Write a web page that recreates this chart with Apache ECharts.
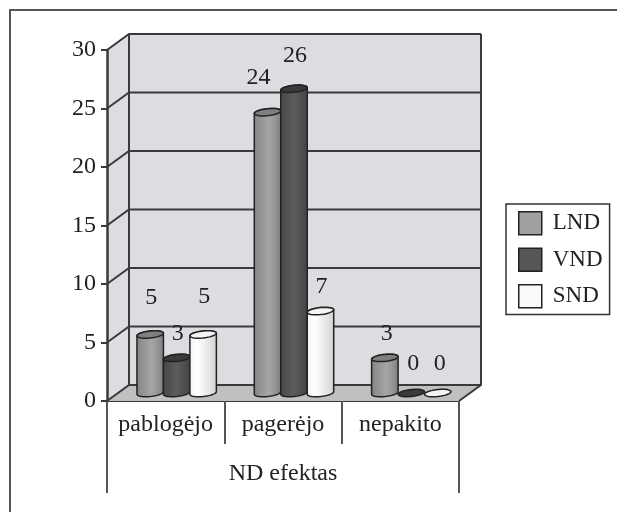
<!DOCTYPE html>
<html>
<head>
<meta charset="utf-8">
<style>html,body{margin:0;padding:0;background:#fff}#main{width:617px;height:512px}</style>
<script src="https://cdn.jsdelivr.net/npm/echarts@6/dist/echarts.min.js"></script>
</head>
<body>
<div id="main"></div>
<script>
var categories = ['pablogėjo', 'pagerėjo', 'nepakito'];
var groupTitle = ['ND efektas'];
var lnd = [5, 24, 3];
var vnd = [3, 26, 0];
var snd = [5, 7, 0];
var yTicks = [0, 5, 10, 15, 20, 25, 30];

// how far each value label sits above its bar, and sideways, as in the original
var labelLift = {
    LND: [37, 34, 24],
    VND: [24, 33, 29],
    SND: [38, 24, 29]
};
var labelShift = {
    LND: [0, -10, 1],
    VND: [0, 0, 1],
    SND: [0, 0, 1]
};

var FONT = '"Liberation Serif", "Times New Roman", serif';
var INK = '#3a3a3a';
var depthX = 22, depthY = -16;

var chart = echarts.init(document.getElementById('main'));

//椭圆的采样点
function arc (cx, cy, a, b, from, to) {
    var pts = [];
    for (var i = 0; i <= 24; i++) {
        var t = from + (to - from) * i / 24;
        pts.push([cx + a * Math.cos(t), cy + b * Math.sin(t) - 0.1 * a * Math.cos(t)]);
    }
    return pts;
}

//墙面和底面
function renderWalls (params, api) {
    var x0 = params.coordSys.x;
    var x1 = x0 + params.coordSys.width;
    var yBase = api.coord([0, 0])[1];
    var yTop = api.coord([0, yTicks[yTicks.length - 1]])[1];
    var line = { stroke: INK, lineWidth: 2, fill: null };
    var kids = [
        { type: 'polygon', shape: { points: [[x0, yBase], [x0 + depthX, yBase + depthY], [x0 + depthX, yTop + depthY], [x0, yTop]] }, style: { fill: '#dcdde0' } },
        { type: 'polygon', shape: { points: [[x0 + depthX, yBase + depthY], [x1 + depthX, yBase + depthY], [x1 + depthX, yTop + depthY], [x0 + depthX, yTop + depthY]] }, style: { fill: '#dcdde0' } },
        { type: 'polygon', shape: { points: [[x0, yBase], [x1, yBase], [x1 + depthX, yBase + depthY], [x0 + depthX, yBase + depthY]] }, style: { fill: '#bfc0c2' } }
    ];
    yTicks.forEach(function (v) {
        var y = api.coord([0, v])[1];
        kids.push({ type: 'polyline', shape: { points: [[x0, y], [x0 + depthX, y + depthY], [x1 + depthX, y + depthY]] }, style: line });
    });
    kids.push({ type: 'polyline', shape: { points: [[x0 + depthX, yTop + depthY], [x0 + depthX, yBase + depthY]] }, style: line });
    kids.push({ type: 'polyline', shape: { points: [[x1 + depthX, yTop + depthY], [x1 + depthX, yBase + depthY], [x1, yBase]] }, style: line });
    return { type: 'group', children: kids };
}

//圆柱
function cylinder (name, slot, stops, topColor) {
    return function (params, api) {
        var cat = api.value(0);
        var val = api.value(1);
        var band = api.size([1, 0])[0];
        var w = band * 0.2256;
        var a = w / 2;
        var b = 3.5;
        var base = api.coord([cat, 0]);
        var top = api.coord([cat, val]);
        var cx = base[0] + depthX / 2 + slot * w;
        var yb = base[1] + depthY / 2;
        var yt = top[1] + depthY / 2;
        var kids = [];
        if (val > 0) {
            var body = arc(cx, yt, a, b, Math.PI, 2 * Math.PI).concat(arc(cx, yb, a, b, 0, Math.PI));
            kids.push({
                type: 'polygon',
                shape: { points: body },
                style: {
                    fill: { type: 'linear', x: 0, y: 0, x2: 1, y2: 0, colorStops: stops },
                    stroke: '#222',
                    lineWidth: 1.5
                }
            });
        }
        kids.push({
            type: 'polygon',
            shape: { points: arc(cx, yt, a, b, 0, 2 * Math.PI) },
            style: { fill: topColor, stroke: '#222', lineWidth: 1.5 }
        });
        kids.push({
            type: 'text',
            style: {
                text: String(val),
                x: cx + 1 + labelShift[name][cat],
                y: yt - labelLift[name][cat],
                align: 'center',
                verticalAlign: 'middle',
                fill: '#222',
                font: '24px ' + FONT
            }
        });
        return { type: 'group', children: kids };
    };
}

function makeBars (name, values, slot, color, stops, topColor) {
    return {
        name: name,
        type: 'custom',
        coordinateSystem: 'cartesian2d',
        xAxisIndex: 0,
        yAxisIndex: 0,
        z: 3,
        silent: true,
        clip: false,
        itemStyle: { color: color },
        encode: { x: 0, y: 1 },
        data: values.map(function (v, i) { return [i, v]; }),
        renderItem: cylinder(name, slot, stops, topColor)
    };
}

var option = {
    animation: false,
    backgroundColor: '#fff',
    graphic: [{
        type: 'polyline',
        shape: { points: [[10, 512], [10, 10], [617, 10]] },
        style: { fill: null, stroke: '#555', lineWidth: 2 },
        silent: true,
        z: 0
    }],
    grid: { left: 107, top: 50, width: 352, height: 351 },
    legend: {
        orient: 'vertical',
        left: 506,
        top: 204,
        padding: [7, 7, 6, 12],
        itemWidth: 23,
        itemHeight: 23,
        itemGap: 12,
        borderColor: '#333',
        borderWidth: 1.5,
        icon: 'rect',
        itemStyle: { borderColor: '#222', borderWidth: 1.5 },
        textStyle: { fontFamily: FONT, fontSize: 23, color: '#222', padding: [0, 0, 0, 6] },
        data: ['LND', 'VND', 'SND']
    },
    xAxis: [{
        type: 'category',
        data: categories,
        position: 'bottom',
        axisLine: { show: true, lineStyle: { color: INK, width: 2 } },
        axisTick: { show: true, interval: 0, length: 43, lineStyle: { color: '#555', width: 2 } },
        axisLabel: { interval: 0, fontFamily: FONT, fontSize: 24, color: '#222', margin: 12 }
    }, {
        type: 'category',
        data: groupTitle,
        position: 'bottom',
        axisLine: { show: false },
        axisTick: { show: true, length: 92, lineStyle: { color: '#555', width: 2 } },
        axisLabel: { fontFamily: FONT, fontSize: 24, color: '#222', margin: 61 }
    }],
    yAxis: {
        type: 'value',
        min: 0,
        max: 30,
        interval: 5,
        z: 5,
        axisLine: { show: true, lineStyle: { color: INK, width: 2.5 } },
        axisTick: { show: true, length: 6, lineStyle: { color: INK, width: 2 } },
        axisLabel: { fontFamily: FONT, fontSize: 24, color: '#222', margin: 11, padding: [0, 0, 5, 0] },
        splitLine: { show: false }
    },
    series: [
        {
            name: 'walls',
            type: 'custom',
            coordinateSystem: 'cartesian2d',
            z: 1,
            silent: true,
            clip: false,
            data: [[0, 0]],
            renderItem: renderWalls
        },
        makeBars('LND', lnd, -1, '#a0a0a0', [
            { offset: 0, color: '#858585' }, { offset: 0.3, color: '#969696' },
            { offset: 0.55, color: '#a6a6a6' }, { offset: 0.8, color: '#929292' }, { offset: 1, color: '#7c7c7c' }
        ], '#7f7f7f'),
        makeBars('VND', vnd, 0, '#565656', [
            { offset: 0, color: '#474747' }, { offset: 0.5, color: '#5c5c5c' }, { offset: 1, color: '#434343' }
        ], '#3a3a3a'),
        makeBars('SND', snd, 1, '#fafafa', [
            { offset: 0, color: '#f2f2f2' }, { offset: 0.3, color: '#ffffff' },
            { offset: 0.7, color: '#e6e6e6' }, { offset: 1, color: '#d2d2d2' }
        ], '#f4f4f4')
    ]
};

chart.setOption(option);
</script>
</body>
</html>
